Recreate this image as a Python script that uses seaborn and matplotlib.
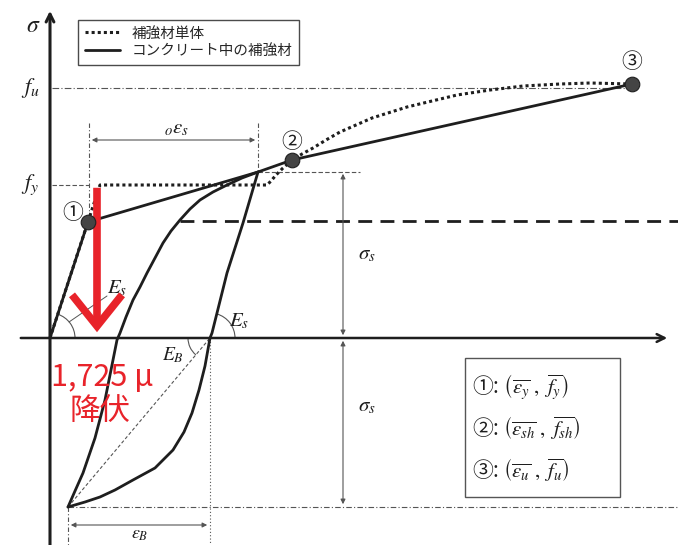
import numpy as np
import pandas as pd
import matplotlib as mpl
from matplotlib import pyplot as plt
from matplotlib.patches import Arc, Rectangle
import seaborn as sns

# schematic stress-strain values (arbitrary units, origin at axis crossing)
concrete_eps = [0, 38, 208, 242, 582]
concrete_sig = [0, 116, 166, 178, 254]

bare_eps = [0, 50, 217, 221, 226, 233, 242, 252, 263, 276, 290, 322, 357, 382,
            407, 440, 473, 510, 540, 582]
bare_sig = [0, 153, 153, 157, 163, 170, 178, 184, 190, 198, 206, 220, 231, 237,
            243, 248, 252, 254, 255, 254]

# unloading / reloading loop
loop_a_eps = [208, 192, 177, 163, 150, 140, 130, 121, 113, 105, 97, 90, 83, 76,
              70, 67, 61, 55, 45, 33, 25, 18]
loop_a_sig = [166, 160, 153, 146, 138, 129, 118, 107, 95, 80, 65, 51, 38, 21,
              5, -2, -32, -62, -100, -135, -153, -169]
loop_b_eps = [208, 193, 177, 162, 160, 155, 149, 142, 134, 123, 105, 83, 65, 50, 35, 18]
loop_b_sig = [166, 115, 65, 5, 0, -28, -52, -75, -94, -112, -130, -142, -152, -159, -164, -169]

point_eps = [38, 242, 582]
point_sig = [116, 178, 254]
point_labels = ['①', '②', '③']

f_u, f_y, sigma_s = 250, 153, 117
eps_b_start, eps_b_end, sig_b = 18, 160, -169

legend_labels = ['補強材単体', 'コンクリート中の補強材']
box_lines = [r'①: $\left(\overline{\varepsilon_y}\ ,\ \overline{f_y}\right)$',
             r'②: $\left(\overline{\varepsilon_{sh}}\ ,\ \overline{f_{sh}}\right)$',
             r'③: $\left(\overline{\varepsilon_u}\ ,\ \overline{f_u}\right)$']

sns.set_style('white')
plt.rcParams['font.family'] = ['Noto Sans CJK JP', 'DejaVu Sans']
plt.rcParams['mathtext.fontset'] = 'stix'

ink = '#1e1e1e'
thin = '#555555'
red = '#e8232a'

fig = plt.figure(figsize=(6.78, 5.45), dpi=100)
ax = fig.add_axes([0, 0, 1, 1])
ax.set_xlim(-50, 628)
ax.set_ylim(-207, 338)
ax.axis('off')

# axes arrows
ax.annotate('', xy=(0, 330), xytext=(0, -210),
            arrowprops=dict(arrowstyle='->', lw=2.2, color=ink, mutation_scale=14))
ax.annotate('', xy=(620, 0), xytext=(-32, 0),
            arrowprops=dict(arrowstyle='->', lw=1.8, color=ink, mutation_scale=14))

# guide lines
ax.plot([2, 580], [f_u, f_u], ls=(0, (6, 2, 1, 2)), lw=0.8, color=thin)
ax.plot([2, 39], [f_y, f_y], ls=(0, (4, 2)), lw=0.8, color=thin)
ax.plot([208, 310], [166, 166], ls=(0, (4, 2)), lw=0.8, color=thin)
ax.plot([130, 628], [sigma_s, sigma_s], ls=(0, (5, 3)), lw=2.0, color=ink)
ax.plot([39, 39], [215, 125], ls=(0, (4, 2, 1, 2)), lw=0.8, color=thin)
ax.plot([208, 208], [215, 166], ls=(0, (4, 2, 1, 2)), lw=0.8, color=thin)
ax.plot([eps_b_end, eps_b_end], [0, -207], ls=(0, (1, 2)), lw=0.8, color=thin)
ax.plot([eps_b_start, eps_b_start], [sig_b, -207], ls=(0, (4, 2, 1, 2)), lw=0.8, color=thin)
ax.plot([eps_b_start, 628], [sig_b, sig_b], ls=(0, (5, 2, 1, 2)), lw=0.8, color=thin)
ax.plot([eps_b_start, eps_b_end], [sig_b, 0], ls=(0, (3, 2)), lw=0.8, color=thin)

# dimension arrows
dim = dict(arrowstyle='<|-|>', lw=0.8, color=thin, mutation_scale=7)
ax.annotate('', xy=(39, 198), xytext=(208, 198), arrowprops=dim)
ax.annotate('', xy=(293, 167), xytext=(293, 0), arrowprops=dim)
ax.annotate('', xy=(293, 0), xytext=(293, sig_b), arrowprops=dim)
ax.annotate('', xy=(eps_b_start, -187), xytext=(eps_b_end, -187), arrowprops=dim)

# curves
sns.lineplot(x=bare_eps, y=bare_sig, sort=False, estimator=None, ax=ax,
             color=ink, lw=2.2, linestyle=(0, (1, 1)), label=legend_labels[0])
sns.lineplot(x=concrete_eps, y=concrete_sig, sort=False, estimator=None, ax=ax,
             color=ink, lw=2.0, label=legend_labels[1])
sns.lineplot(x=loop_a_eps, y=loop_a_sig, sort=False, estimator=None, ax=ax,
             color=ink, lw=2.0)
sns.lineplot(x=loop_b_eps, y=loop_b_sig, sort=False, estimator=None, ax=ax,
             color=ink, lw=2.0)
sns.scatterplot(x=point_eps, y=point_sig, ax=ax, s=110, color='#444444',
                edgecolor='#222222', zorder=5)
for e, s, lab, dx, dy in zip(point_eps, point_sig, point_labels, [-15, 0, 0], [9, 18, 22]):
    ax.text(e + dx, s + dy, lab, fontsize=15, ha='center', va='center', color=ink)

# angle arcs
ax.add_patch(Arc((0, 0), 50, 50, theta1=0, theta2=72, color=thin, lw=0.8))
ax.add_patch(Arc((eps_b_end, 0), 50, 50, theta1=0, theta2=74, color=thin, lw=0.8))
ax.add_patch(Arc((eps_b_end, 0), 44, 44, theta1=180, theta2=230, color=thin, lw=0.8))
ax.plot([19, 57], [16, 42], lw=0.7, color=thin)

# math labels
ax.text(-17, 313, r'$\sigma$', fontsize=17, ha='center', va='center', color=ink)
ax.text(-20, f_u, r'$f_u$', fontsize=16, ha='center', va='center', color=ink)
ax.text(-20, f_y, r'$f_y$', fontsize=16, ha='center', va='center', color=ink)
ax.text(125, 211, r'$_{\,o}\varepsilon_s$', fontsize=15, ha='center', va='center', color=ink)
ax.text(308, 85, r'$\sigma_s$', fontsize=15, ha='left', va='center', color=ink)
ax.text(308, -67, r'$\sigma_s$', fontsize=15, ha='left', va='center', color=ink)
ax.text(67, 51, r'$E_s$', fontsize=15, ha='center', va='center', color=ink)
ax.text(189, 18, r'$E_s$', fontsize=15, ha='center', va='center', color=ink)
ax.text(123, -17, r'$E_B$', fontsize=14, ha='center', va='center', color=ink)
ax.text(90, -196, r'$\varepsilon_B$', fontsize=13, ha='center', va='center', color=ink)

# red yield annotation
ax.annotate('', xy=(47, 3), xytext=(47, 153),
            arrowprops=dict(arrowstyle='->,head_length=0.75,head_width=0.6',
                            color=red, lw=5.5, mutation_scale=30,
                            capstyle='butt', joinstyle='miter'))
ax.text(52, -40, '1,725 μ', fontsize=22, ha='center', va='center', color=red)
ax.text(50, -74, '降伏', fontsize=22, ha='center', va='center', color=red)

# key box
ax.add_patch(Rectangle((415, -159), 155, 139, fill=False, edgecolor=thin, lw=1.0))
for i, line in enumerate(box_lines):
    ax.text(422, -49 - 41.5 * i, line, fontsize=15, ha='left', va='center', color=ink)

leg = ax.legend(loc='upper left', bbox_to_anchor=(78 / 678, 1 - 20 / 545), borderaxespad=0,
                fontsize=10.5, frameon=True, fancybox=False, edgecolor=ink,
                handlelength=2.4, labelspacing=0.25, borderpad=0.45)
leg.get_frame().set_linewidth(1.0)

fig.savefig('out.png', dpi=100)
